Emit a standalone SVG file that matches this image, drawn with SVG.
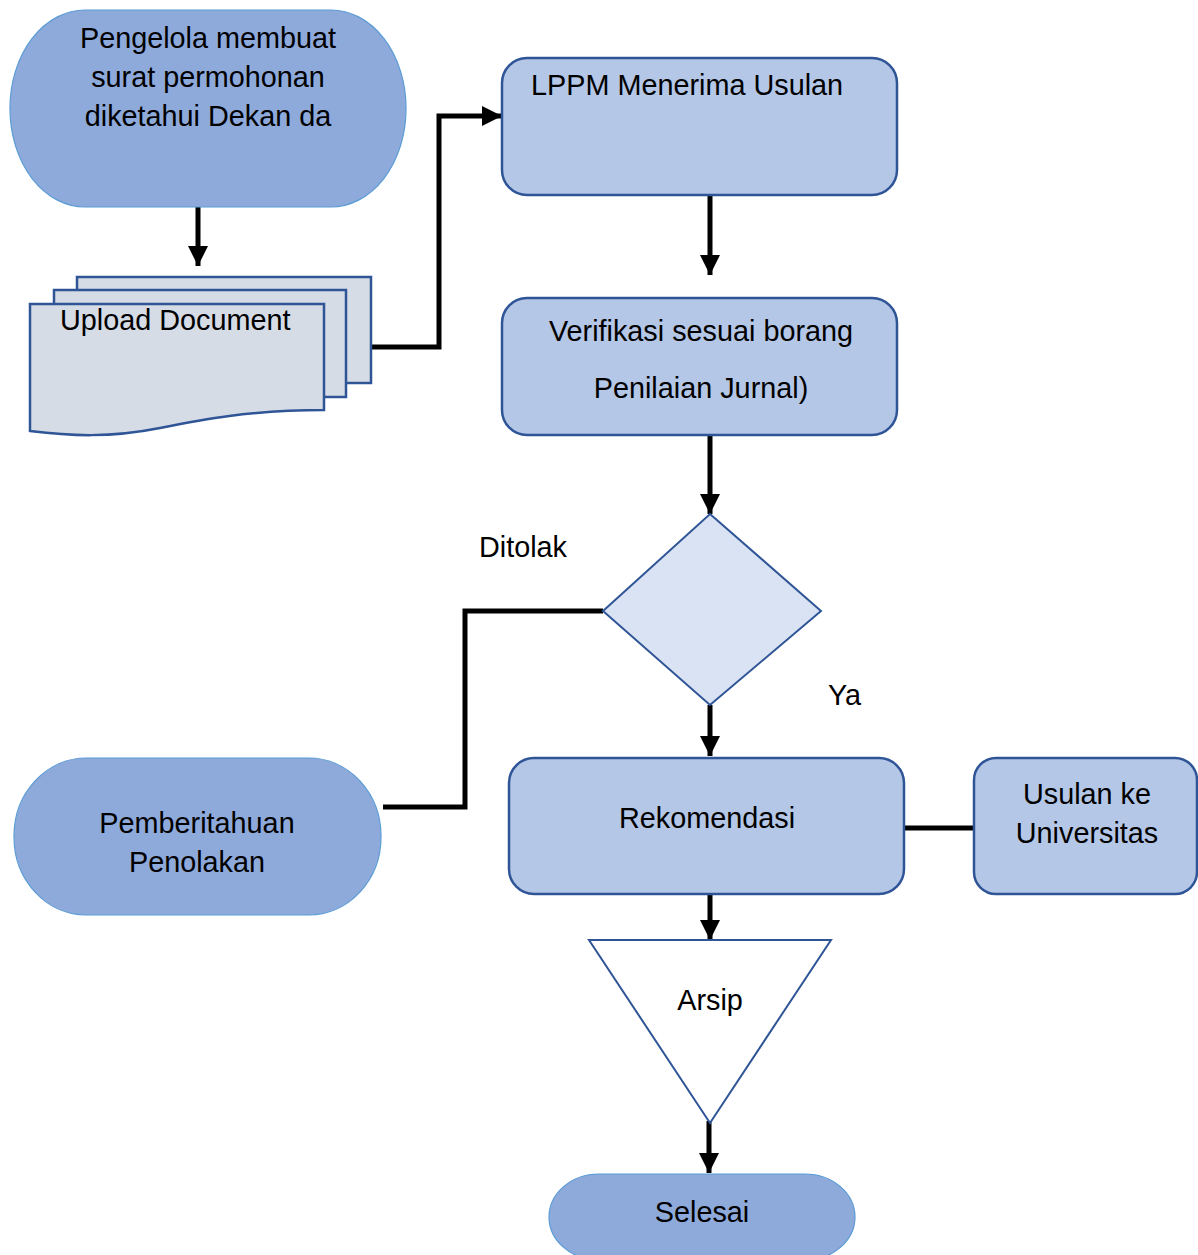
<svg xmlns="http://www.w3.org/2000/svg" width="1198" height="1255" viewBox="0 0 1198 1255">
<style>
text{font-family:"Liberation Sans",Arial,sans-serif;font-size:28.8px;fill:#000}
.term{fill:#8eaadb;stroke:#5b9bd5;stroke-width:1.2}
.proc{fill:#b4c7e7;stroke:#2f5597;stroke-width:2.5}
.doc{fill:#d6dce5;stroke:#2f5597;stroke-width:2.5}
.dec{fill:#dae3f3;stroke:#2f5597;stroke-width:2}
.tri{fill:#ffffff;stroke:#2f5597;stroke-width:2}
.c{fill:none;stroke:#000;stroke-width:5}
.ca{fill:none;stroke:#000;stroke-width:5;marker-end:url(#ah)}
</style>
<defs>
<marker id="ah" markerUnits="userSpaceOnUse" markerWidth="22" markerHeight="22" viewBox="0 0 22 22" refX="20" refY="11" orient="auto">
<path d="M0,1 L20,11 L0,21 Z" fill="#000"/>
</marker>
</defs>
<g id="connectors">
<path class="ca" d="M198,207 V266"/>
<path class="ca" d="M372,347 H439 V116 H502"/>
<path class="ca" d="M710,195 V275"/>
<path class="ca" d="M710,435 V514"/>
<path class="c" d="M603,611 H465 V807 H383"/>
<path class="ca" d="M710,705 V756"/>
<path class="c" d="M904,828 H976"/>
<path class="ca" d="M710,894 V940"/>
<path class="ca" d="M709,1121 V1173"/>
</g>
<g id="n-pengelola">
<rect class="term" x="10" y="10" width="396" height="197" rx="75" ry="98"/>
<text x="208" y="48" text-anchor="middle">Pengelola membuat</text>
<text x="208" y="87" text-anchor="middle">surat permohonan</text>
<text x="208" y="126" text-anchor="middle">diketahui Dekan da</text>
</g>
<g id="n-upload">
<rect class="doc" x="77" y="277" width="294" height="106"/>
<rect class="doc" x="54" y="290" width="292" height="107"/>
<path class="doc" d="M30,304 H324 V410 C250,410 200,420 160,428 C110,438 70,436 30,431 Z"/>
<text x="60" y="330">Upload Document</text>
</g>
<g id="n-lppm">
<rect class="proc" x="502" y="58" width="395" height="137" rx="25"/>
<text x="531" y="95">LPPM Menerima Usulan</text>
</g>
<g id="n-verifikasi">
<rect class="proc" x="502" y="298" width="395" height="137" rx="25"/>
<text x="701" y="341" text-anchor="middle">Verifikasi sesuai borang</text>
<text x="701" y="398" text-anchor="middle">Penilaian Jurnal)</text>
</g>
<g id="n-decision">
<path class="dec" d="M710,514 L821,611 L710,705 L603,611 Z"/>
</g>
<text x="479" y="557">Ditolak</text>
<text x="828" y="705">Ya</text>
<g id="n-rekomendasi">
<rect class="proc" x="509" y="758" width="395" height="136" rx="25"/>
<text x="707" y="828" text-anchor="middle">Rekomendasi</text>
</g>
<g id="n-usulan">
<rect class="proc" x="974" y="758" width="223" height="136" rx="22"/>
<text x="1087" y="804" text-anchor="middle">Usulan ke</text>
<text x="1087" y="843" text-anchor="middle">Universitas</text>
</g>
<g id="n-pemberitahuan">
<rect class="term" x="14" y="758" width="367" height="157" rx="72" ry="78"/>
<text x="197" y="833" text-anchor="middle">Pemberitahuan</text>
<text x="197" y="872" text-anchor="middle">Penolakan</text>
</g>
<g id="n-arsip">
<path class="tri" d="M589,940 L831,940 L710,1123 Z"/>
<text x="710" y="1010" text-anchor="middle">Arsip</text>
</g>
<g id="n-selesai">
<rect class="term" x="549" y="1174" width="306" height="86" rx="50" ry="43"/>
<text x="702" y="1222" text-anchor="middle">Selesai</text>
</g>
</svg>
